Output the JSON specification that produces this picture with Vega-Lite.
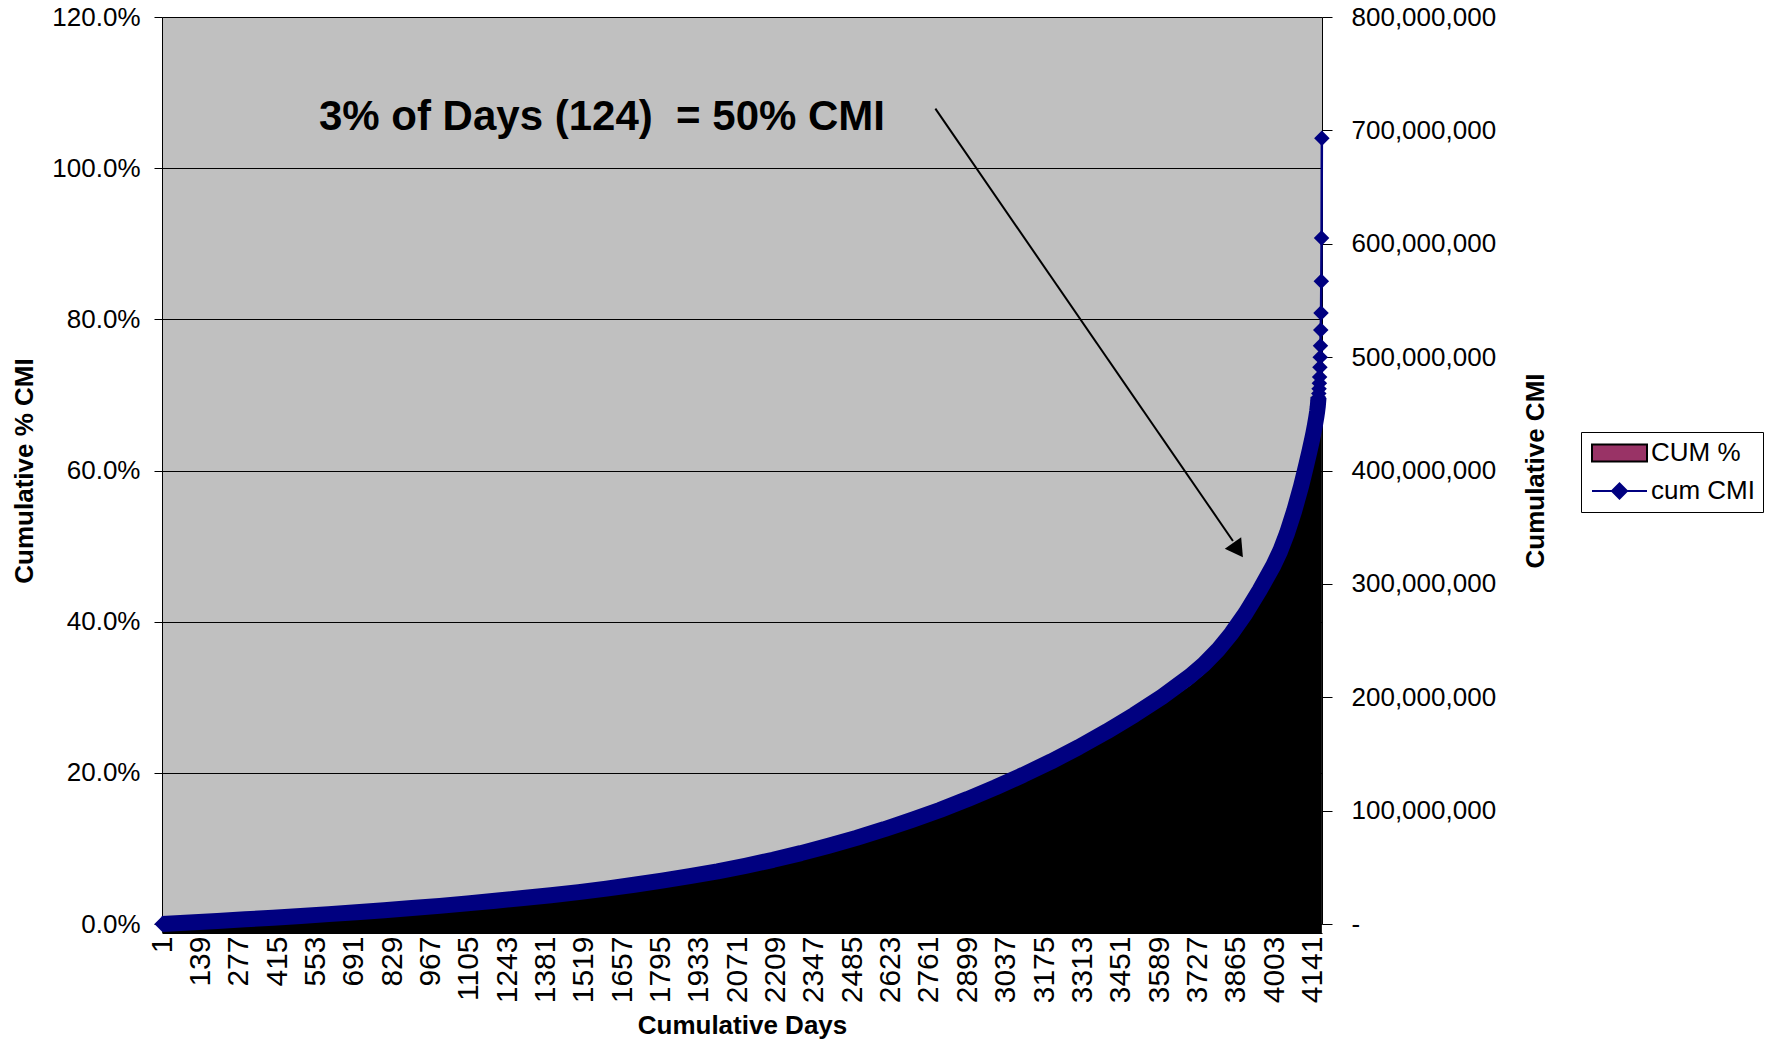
{
  "$schema": "https://vega.github.io/schema/vega-lite/v6.json",
  "width": 1160,
  "height": 907,
  "autosize": {"type": "none"},
  "padding": {"left": 162, "top": 17, "right": 454, "bottom": 122},
  "background": "white",
  "config": {
    "font": "Liberation Sans",
    "view": {"fill": "#C0C0C0", "stroke": null},
    "axis": {"labelColor": "#000000", "titleColor": "#000000", "labelFontSize": 26, "titleFontSize": 26, "titleFontWeight": "bold", "labelFont": "Liberation Sans", "titleFont": "Liberation Sans"},
    "axisX": {"labelAngle": -90, "labelFontSize": 30, "grid": false, "ticks": false, "domain": true, "domainColor": "#000000", "offset": 9, "labelPadding": 3, "labelOverlap": false, "labelFlush": false, "labelBound": false, "titlePadding": 10}
  },
  "datasets": {
    "days": [
      {"day": 1, "cum_cmi": 10000, "cum_pct": 0.0000},
      {"day": 100, "cum_cmi": 1300000, "cum_pct": 0.0019},
      {"day": 200, "cum_cmi": 2700000, "cum_pct": 0.0039},
      {"day": 300, "cum_cmi": 4100000, "cum_pct": 0.0059},
      {"day": 400, "cum_cmi": 5550000, "cum_pct": 0.0080},
      {"day": 500, "cum_cmi": 7000000, "cum_pct": 0.0101},
      {"day": 600, "cum_cmi": 8700000, "cum_pct": 0.0126},
      {"day": 700, "cum_cmi": 10400000, "cum_pct": 0.0150},
      {"day": 800, "cum_cmi": 12200000, "cum_pct": 0.0176},
      {"day": 900, "cum_cmi": 14100000, "cum_pct": 0.0203},
      {"day": 1000, "cum_cmi": 16000000, "cum_pct": 0.0231},
      {"day": 1100, "cum_cmi": 18200000, "cum_pct": 0.0263},
      {"day": 1200, "cum_cmi": 20500000, "cum_pct": 0.0296},
      {"day": 1300, "cum_cmi": 22900000, "cum_pct": 0.0330},
      {"day": 1400, "cum_cmi": 25400000, "cum_pct": 0.0367},
      {"day": 1500, "cum_cmi": 28100000, "cum_pct": 0.0405},
      {"day": 1600, "cum_cmi": 31200000, "cum_pct": 0.0450},
      {"day": 1700, "cum_cmi": 34600000, "cum_pct": 0.0499},
      {"day": 1800, "cum_cmi": 38300000, "cum_pct": 0.0553},
      {"day": 1900, "cum_cmi": 42300000, "cum_pct": 0.0610},
      {"day": 2000, "cum_cmi": 46500000, "cum_pct": 0.0671},
      {"day": 2100, "cum_cmi": 51300000, "cum_pct": 0.0740},
      {"day": 2200, "cum_cmi": 56600000, "cum_pct": 0.0817},
      {"day": 2300, "cum_cmi": 62500000, "cum_pct": 0.0902},
      {"day": 2400, "cum_cmi": 69000000, "cum_pct": 0.0996},
      {"day": 2500, "cum_cmi": 76000000, "cum_pct": 0.1097},
      {"day": 2600, "cum_cmi": 83600000, "cum_pct": 0.1206},
      {"day": 2700, "cum_cmi": 91800000, "cum_pct": 0.1325},
      {"day": 2800, "cum_cmi": 100600000, "cum_pct": 0.1452},
      {"day": 2900, "cum_cmi": 110200000, "cum_pct": 0.1590},
      {"day": 3000, "cum_cmi": 120500000, "cum_pct": 0.1739},
      {"day": 3100, "cum_cmi": 131500000, "cum_pct": 0.1898},
      {"day": 3200, "cum_cmi": 143300000, "cum_pct": 0.2068},
      {"day": 3300, "cum_cmi": 156000000, "cum_pct": 0.2251},
      {"day": 3400, "cum_cmi": 169700000, "cum_pct": 0.2449},
      {"day": 3500, "cum_cmi": 184500000, "cum_pct": 0.2662},
      {"day": 3600, "cum_cmi": 200500000, "cum_pct": 0.2893},
      {"day": 3700, "cum_cmi": 218500000, "cum_pct": 0.3153},
      {"day": 3750, "cum_cmi": 229000000, "cum_pct": 0.3304},
      {"day": 3800, "cum_cmi": 241500000, "cum_pct": 0.3485},
      {"day": 3850, "cum_cmi": 256500000, "cum_pct": 0.3701},
      {"day": 3900, "cum_cmi": 274000000, "cum_pct": 0.3954},
      {"day": 3950, "cum_cmi": 294000000, "cum_pct": 0.4242},
      {"day": 4000, "cum_cmi": 316000000, "cum_pct": 0.4560},
      {"day": 4025, "cum_cmi": 329000000, "cum_pct": 0.4747},
      {"day": 4050, "cum_cmi": 345000000, "cum_pct": 0.4978},
      {"day": 4075, "cum_cmi": 364000000, "cum_pct": 0.5253},
      {"day": 4100, "cum_cmi": 386000000, "cum_pct": 0.5570},
      {"day": 4110, "cum_cmi": 396000000, "cum_pct": 0.5714},
      {"day": 4120, "cum_cmi": 406000000, "cum_pct": 0.5859},
      {"day": 4130, "cum_cmi": 416500000, "cum_pct": 0.6010},
      {"day": 4140, "cum_cmi": 427500000, "cum_pct": 0.6169},
      {"day": 4145, "cum_cmi": 433500000, "cum_pct": 0.6255},
      {"day": 4150, "cum_cmi": 440000000, "cum_pct": 0.6349},
      {"day": 4155, "cum_cmi": 447000000, "cum_pct": 0.6450},
      {"day": 4158, "cum_cmi": 452000000, "cum_pct": 0.6522},
      {"day": 4160, "cum_cmi": 456000000, "cum_pct": 0.6580},
      {"day": 4161, "cum_cmi": 458500000, "cum_pct": 0.6616},
      {"day": 4162, "cum_cmi": 461500000, "cum_pct": 0.6659},
      {"day": 4163, "cum_cmi": 464500000, "cum_pct": 0.6703},
      {"day": 4164, "cum_cmi": 468000000, "cum_pct": 0.6753},
      {"day": 4165, "cum_cmi": 472000000, "cum_pct": 0.6811},
      {"day": 4166, "cum_cmi": 477000000, "cum_pct": 0.6883},
      {"day": 4167, "cum_cmi": 482500000, "cum_pct": 0.6962},
      {"day": 4168, "cum_cmi": 491000000, "cum_pct": 0.7085},
      {"day": 4169, "cum_cmi": 500000000, "cum_pct": 0.7215},
      {"day": 4170, "cum_cmi": 510000000, "cum_pct": 0.7359},
      {"day": 4171, "cum_cmi": 524000000, "cum_pct": 0.7561},
      {"day": 4172, "cum_cmi": 539000000, "cum_pct": 0.7778},
      {"day": 4173, "cum_cmi": 567000000, "cum_pct": 0.8182},
      {"day": 4174, "cum_cmi": 605000000, "cum_pct": 0.8730},
      {"day": 4175, "cum_cmi": 693000000, "cum_pct": 1.0000}
    ]
  },
  "data": {"name": "days"},
  "encoding": {
    "x": {
      "field": "day",
      "type": "quantitative",
      "scale": {"domain": [0.5, 4175.5], "nice": false, "zero": false},
      "axis": {
        "title": "Cumulative Days",
        "values": [1, 139, 277, 415, 553, 691, 829, 967, 1105, 1243, 1381, 1519, 1657, 1795, 1933, 2071, 2209, 2347, 2485, 2623, 2761, 2899, 3037, 3175, 3313, 3451, 3589, 3727, 3865, 4003, 4141],
        "format": "d",
        "labelOverlap": false
      }
    }
  },
  "layer": [
    {
      "layer": [
        {
          "mark": {"type": "area", "color": "#000000", "interpolate": "linear"},
          "encoding": {
            "y": {
              "field": "cum_pct",
              "type": "quantitative",
              "scale": {"domain": [0, 1.2], "nice": false, "zero": false},
              "axis": {
                "title": "Cumulative % CMI",
                "values": [0, 0.2, 0.4, 0.6, 0.8, 1.0, 1.2],
                "format": ".1%",
                "grid": true,
                "gridColor": "#000000",
                "gridOpacity": 1,
                "gridWidth": 1,
                "tickSize": 8,
                "tickColor": "#000000",
                "domainColor": "#000000",
                "labelPadding": 14,
                "titlePadding": 14
              }
            },
            "y2": {"datum": -0.012}
          }
        },
        {
          "data": {"values": [{"day": 1584}]},
          "mark": {"type": "text", "text": "3% of Days (124)\u00a0\u00a0= 50% CMI", "fontSize": 42, "fontWeight": "bold", "font": "Liberation Sans", "align": "center", "baseline": "middle", "color": "#000000"},
          "encoding": {
            "y": {"datum": 1.0677}
          }
        },
        {
          "data": {"values": [{"day": 2784}]},
          "mark": {"type": "rule", "color": "#000000", "strokeWidth": 2},
          "encoding": {
            "y": {"datum": 1.0787},
            "x2": {"datum": 3855},
            "y2": {"datum": 0.5068}
          }
        },
        {
          "data": {"values": [{"day": 3873}]},
          "mark": {"type": "point", "shape": "triangle-up", "filled": true, "size": 400, "angle": 145, "color": "#000000", "opacity": 1},
          "encoding": {
            "y": {"datum": 0.4947}
          }
        }
      ]
    },
    {
      "layer": [
        {
          "transform": [{"filter": "datum.day <= 4163"}],
          "mark": {"type": "line", "color": "#000080", "strokeWidth": 16, "strokeCap": "butt", "strokeJoin": "round"},
          "encoding": {
            "y": {
              "field": "cum_cmi",
              "type": "quantitative",
              "scale": {"domain": [0, 800000000], "nice": false, "zero": false},
              "axis": {
                "orient": "right",
                "title": "Cumulative CMI",
                "values": [0, 100000000, 200000000, 300000000, 400000000, 500000000, 600000000, 700000000, 800000000],
                "labelExpr": "datum.value === 0 ? ' -' : format(datum.value, ',')",
                "grid": false,
                "tickSize": 10,
                "tickColor": "#000000",
                "domainColor": "#000000",
                "labelPadding": 19,
                "titleAngle": 270,
                "titlePadding": 53
              }
            }
          }
        },
        {
          "mark": {"type": "line", "color": "#000080", "strokeWidth": 2.5},
          "encoding": {
            "y": {"field": "cum_cmi", "type": "quantitative"}
          }
        },
        {
          "transform": [{"filter": "datum.day == 1 || datum.day >= 4160"}],
          "mark": {"type": "point", "shape": "diamond", "filled": true, "size": 240, "color": "#000080", "opacity": 1},
          "encoding": {
            "y": {"field": "cum_cmi", "type": "quantitative"}
          }
        },
        {
          "transform": [{"filter": "false"}],
          "mark": {"type": "point", "filled": true, "strokeWidth": 2, "opacity": 1},
          "encoding": {
            "y": {"field": "cum_cmi", "type": "quantitative"},
            "fill": {
              "field": "series",
              "type": "nominal",
              "scale": {"domain": ["CUM %", "cum CMI"], "range": ["#993366", "#000080"]},
              "legend": {"title": null, "orient": "none", "legendX": 1419, "legendY": 415, "strokeColor": "#000000", "fillColor": "#FFFFFF", "padding": 8, "labelFontSize": 26, "labelFont": "Liberation Sans", "labelColor": "#000000", "symbolSize": 400, "symbolStrokeWidth": 2, "labelOffset": 36, "rowPadding": 12}
            },
            "stroke": {
              "field": "series",
              "type": "nominal",
              "scale": {"domain": ["CUM %", "cum CMI"], "range": ["#000000", "#000080"]},
              "legend": {"title": null, "orient": "none", "legendX": 1419, "legendY": 415, "strokeColor": "#000000", "fillColor": "#FFFFFF", "padding": 8, "labelFontSize": 26, "labelFont": "Liberation Sans", "labelColor": "#000000", "symbolSize": 400, "symbolStrokeWidth": 2, "labelOffset": 36, "rowPadding": 12}
            },
            "shape": {
              "field": "series",
              "type": "nominal",
              "scale": {"domain": ["CUM %", "cum CMI"], "range": ["M-1,-0.85H4.5V0.85H-1Z", "M-1,0H4.5M1,0L1.75,-0.75L2.5,0L1.75,0.75Z"]},
              "legend": {"title": null, "orient": "none", "legendX": 1419, "legendY": 415, "strokeColor": "#000000", "fillColor": "#FFFFFF", "padding": 8, "labelFontSize": 26, "labelFont": "Liberation Sans", "labelColor": "#000000", "symbolSize": 400, "symbolStrokeWidth": 2, "labelOffset": 36, "rowPadding": 12}
            }
          }
        }
      ]
    }
  ],
  "resolve": {"scale": {"y": "independent"}}
}
